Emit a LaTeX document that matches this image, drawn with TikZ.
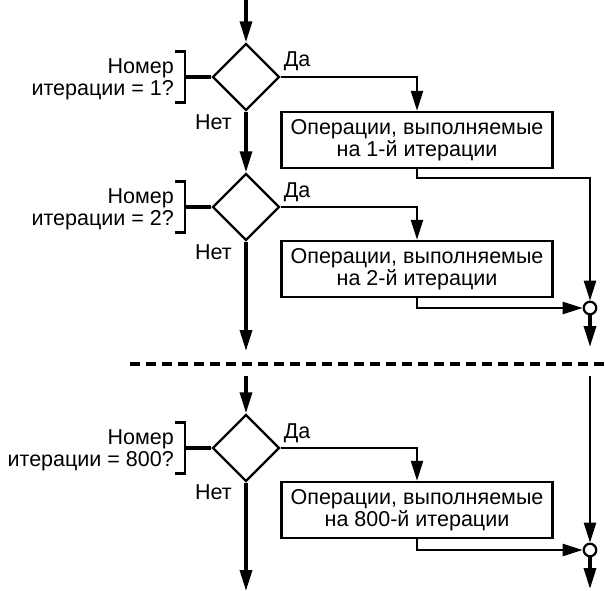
\documentclass[tikz,border=0pt]{standalone}
\usepackage{fontspec}
\setmainfont{Liberation Sans}
\usetikzlibrary{arrows.meta,shapes.geometric}
\tikzstyle{decision} = [
  draw,
  diamond,
  aspect=1,
  line width=2.4pt,
  minimum width=67pt,
  minimum height=67pt,
  inner sep=0pt,
]
\tikzstyle{action} = [
  draw,
  rectangle,
  line width=2.4pt,
  minimum width=271pt,
  minimum height=56pt,
  inner sep=0pt,
  align=center,
]
\tikzstyle{junction} = [
  draw,
  circle,
  line width=2.2pt,
  fill=white,
  minimum size=12.5pt,
  inner sep=0pt,
]
\tikzstyle{flow} = [line width=3.4pt, -{Triangle[length=21pt,width=12pt]}]
\tikzstyle{branch} = [line width=2.4pt, -{Triangle[length=20pt,width=12pt]}]
\tikzstyle{brace} = [line width=2.4pt]
\tikzstyle{note} = [inner sep=0pt]

\begin{document}
\begin{tikzpicture}[x=1pt, y=-1pt, font=\fontsize{21.5}{22}\selectfont]
            \useasboundingbox (0,0) rectangle (605,591);

            % Decisions
            \node[decision] (d1) at (246,77) {};
            \node[decision] (d2) at (246,207) {};
            \node[decision] (d3) at (246,448) {};

            % Operations
            \node[action] (b1) at (417,140) {Операции, выполняемые\\на 1-й итерации};
            \node[action] (b2) at (417,269) {Операции, выполняемые\\на 2-й итерации};
            \node[action] (b3) at (417,510) {Операции, выполняемые\\на 800-й итерации};

            % Junctions
            \node[junction] (j1) at (590,308) {};
            \node[junction] (j3) at (590,550) {};

            % Free ends
            \coordinate (top) at (246,0);
            \coordinate (end2) at (246,351);
            \coordinate (start3) at (246,376);
            \coordinate (end3) at (246,591);
            \coordinate (r1) at (590,178);
            \coordinate (out1) at (590,347);
            \coordinate (r3) at (590,376);
            \coordinate (out3) at (590,589);
            \coordinate (k1) at (185,77);
            \coordinate (k2) at (185,207);
            \coordinate (k3) at (185,448);
            \coordinate (cutl) at (130,364);
            \coordinate (cutr) at (605,364);

            % Main flow
            \draw[flow] (top) -- (d1.north);
            \draw[flow] (d1.south) -- (d2.north);
            \draw[flow] (d2.south) -- (end2);
            \draw[flow] (start3) -- (d3.north);
            \draw[flow] (d3.south) -- (end3);

            % Yes branches
            \draw[branch] (d1.east) -| (b1.north);
            \draw[branch] (d2.east) -| (b2.north);
            \draw[branch] (d3.east) -| (b3.north);

            % Back to the right rail
            \draw[branch] (b1.south) |- (r1) -- (j1.north);
            \draw[branch] (b2.south) |- (j1.west);
            \draw[flow] (j1.south) -- (out1);
            \draw[branch] (r3) -- (j3.north);
            \draw[branch] (b3.south) |- (j3.west);
            \draw[flow] (j3.south) -- (out3);

            % Cut
            \draw[line width=3.4pt, dash pattern=on 10pt off 6pt] (cutl) -- (cutr);

            % Questions
            \draw[line width=3.4pt] (d1.west) -- (k1);
            \draw[line width=3.4pt] (d2.west) -- (k2);
            \draw[line width=3.4pt] (d3.west) -- (k3);
            \draw[brace] ([xshift=-10pt,yshift=25.5pt]k1) -- ([yshift=25.5pt]k1)
              -- ([yshift=-25.5pt]k1) -- ([xshift=-10pt,yshift=-25.5pt]k1);
            \draw[brace] ([xshift=-10pt,yshift=25.5pt]k2) -- ([yshift=25.5pt]k2)
              -- ([yshift=-25.5pt]k2) -- ([xshift=-10pt,yshift=-25.5pt]k2);
            \draw[brace] ([xshift=-10pt,yshift=25.5pt]k3) -- ([yshift=25.5pt]k3)
              -- ([yshift=-25.5pt]k3) -- ([xshift=-10pt,yshift=-25.5pt]k3);
            \node[note, anchor=east, align=right] (q1) at (174,79) {Номер\\итерации = 1?};
            \node[note, anchor=east, align=right] (q2) at (174,209) {Номер\\итерации = 2?};
            \node[note, anchor=east, align=right] (q3) at (174,450) {Номер\\итерации = 800?};

            % Labels
            \node[note, anchor=base west] (y1) at ([xshift=3pt,yshift=10pt]d1.east) {Да};
            \node[note, anchor=base west] (y2) at ([xshift=3pt,yshift=10pt]d2.east) {Да};
            \node[note, anchor=base west] (y3) at ([xshift=3pt,yshift=10pt]d3.east) {Да};
            \node[note, anchor=base east] (n1) at ([xshift=-14pt,yshift=-18pt]d1.south) {Нет};
            \node[note, anchor=base east] (n2) at ([xshift=-14pt,yshift=-18pt]d2.south) {Нет};
            \node[note, anchor=base east] (n3) at ([xshift=-14pt,yshift=-17pt]d3.south) {Нет};
          \end{tikzpicture}
\end{document}
